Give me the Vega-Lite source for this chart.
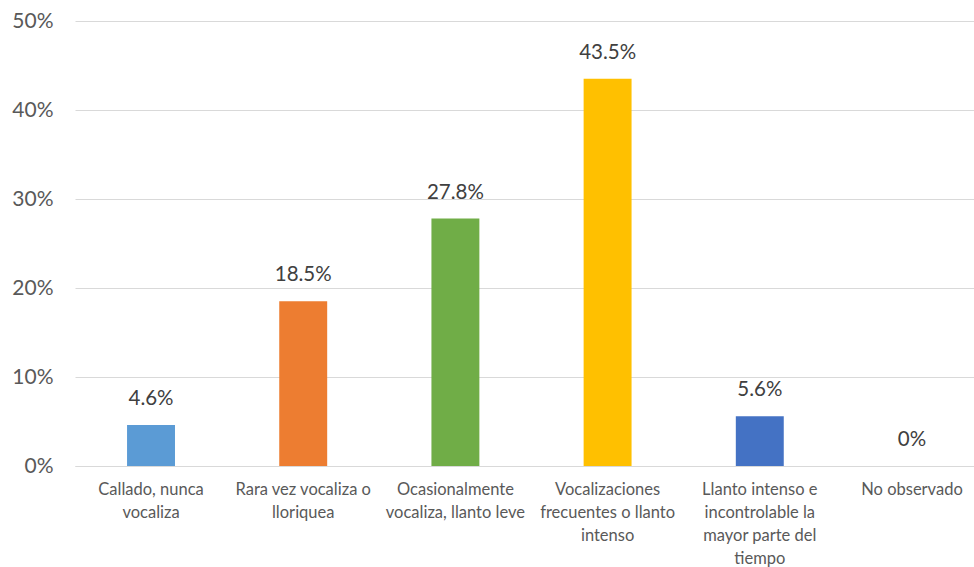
{
  "$schema": "https://vega.github.io/schema/vega-lite/v6.json",
  "width": 899,
  "height": 445,
  "autosize": {"type": "none"},
  "padding": {"left": 75, "top": 21, "right": 0, "bottom": 101},
  "background": "white",
  "config": {"view": {"stroke": null}, "font": "Lato"},
  "data": {"values": [
    {"cat": "Callado, nunca\nvocaliza", "value": 4.6, "label": "4.6%", "color": "#5B9BD5"},
    {"cat": "Rara vez vocaliza o\nlloriquea", "value": 18.5, "label": "18.5%", "color": "#ED7D31"},
    {"cat": "Ocasionalmente\nvocaliza, llanto leve", "value": 27.8, "label": "27.8%", "color": "#70AD47"},
    {"cat": "Vocalizaciones\nfrecuentes o llanto\nintenso", "value": 43.5, "label": "43.5%", "color": "#FFC000"},
    {"cat": "Llanto intenso e\nincontrolable la\nmayor parte del\ntiempo", "value": 5.6, "label": "5.6%", "color": "#4472C4"},
    {"cat": "No observado", "value": 0, "label": "0%", "color": "#A5A5A5"}
  ]},
  "encoding": {
    "x": {"field": "cat", "type": "nominal", "sort": null,
      "scale": {"paddingInner": 0.685, "paddingOuter": 0.342, "range": [0, 913]},
      "axis": {"title": null, "labelAngle": 0, "domain": true, "domainColor": "#d9d9d9", "ticks": false,
        "labelExpr": "split(datum.label, '\\n')", "labelFontSize": 16.5, "labelColor": "#595959",
        "labelLineHeight": 23, "labelPadding": 15, "labelBaseline": "top", "labelLimit": 200}},
    "y": {"field": "value", "type": "quantitative",
      "scale": {"domain": [0, 50]},
      "axis": {"title": null, "values": [0, 10, 20, 30, 40, 50], "labelExpr": "datum.value + '%'",
        "domain": false, "ticks": false, "gridColor": "#d9d9d9", "labelFontSize": 21,
        "labelColor": "#595959", "labelPadding": 22}}
  },
  "layer": [
    {"mark": {"type": "bar"}, "encoding": {"color": {"field": "color", "type": "nominal", "scale": null}}},
    {"mark": {"type": "text", "baseline": "bottom", "dy": -16, "fontSize": 20.5, "color": "#404040"},
      "encoding": {"text": {"field": "label"}}}
  ]
}
